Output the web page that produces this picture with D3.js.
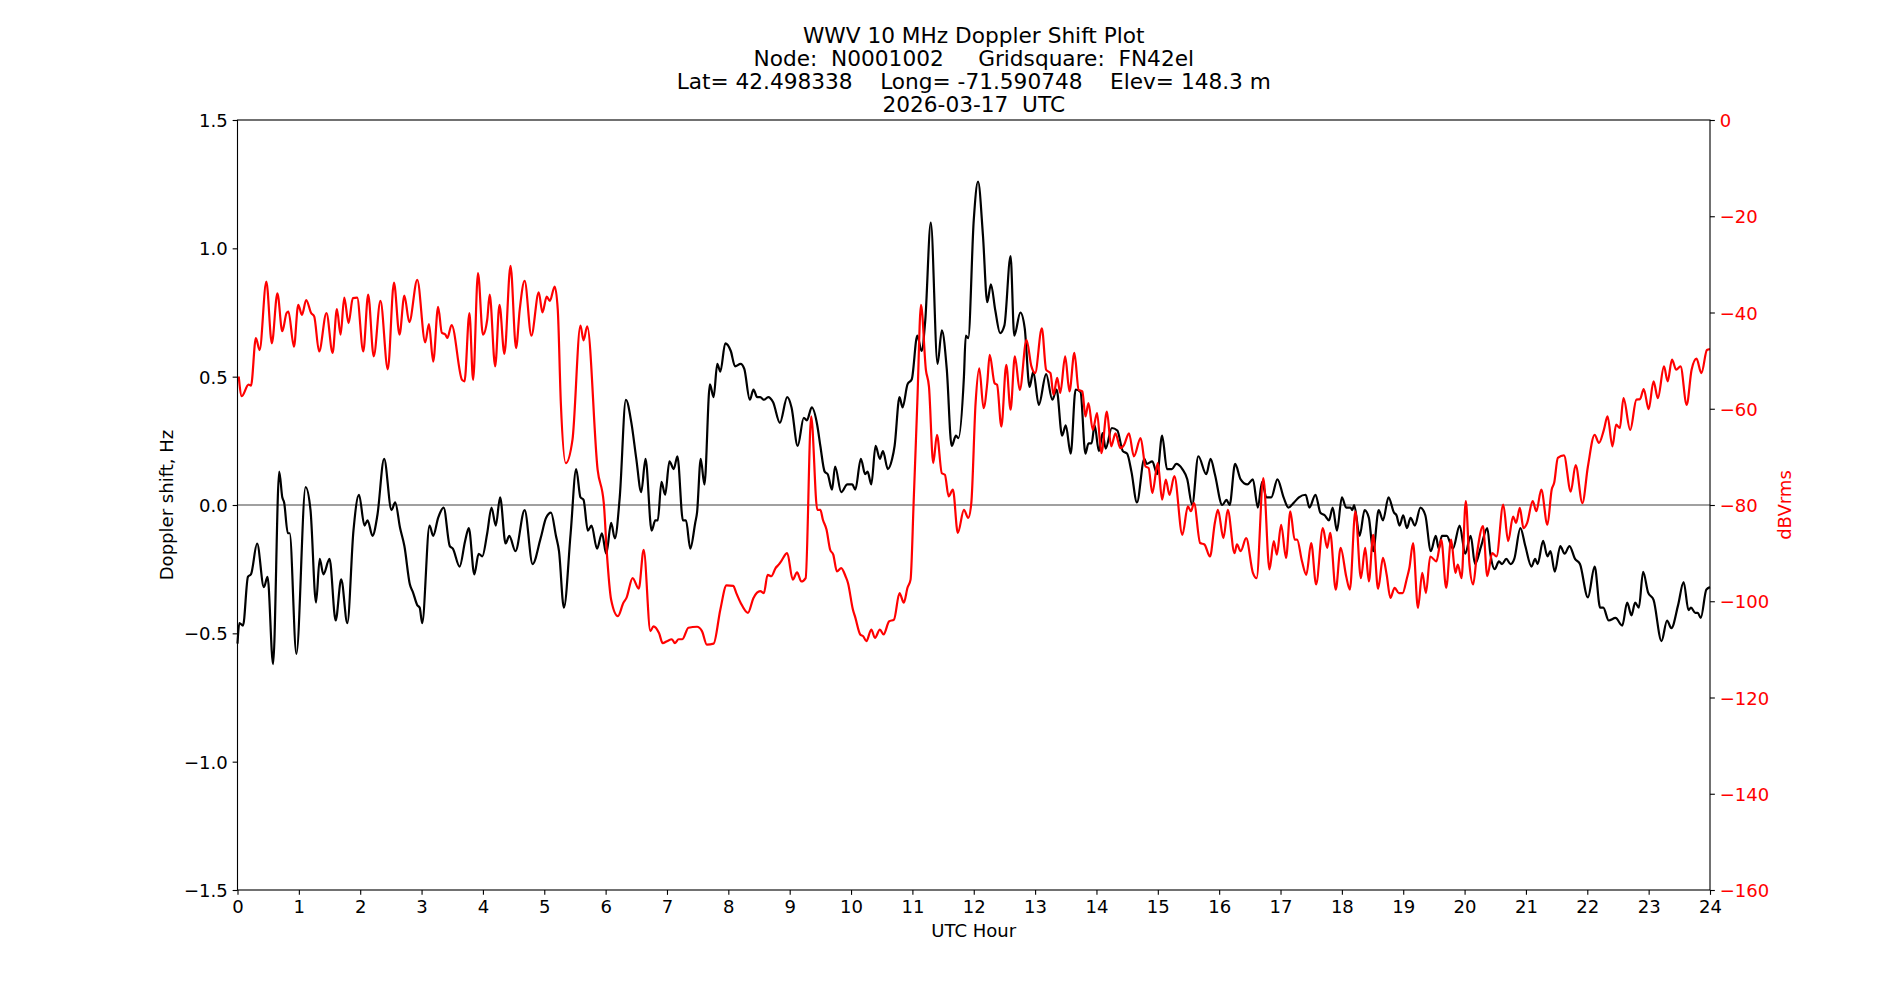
<!DOCTYPE html>
<html>
<head>
<meta charset="utf-8">
<script src="https://cdn.jsdelivr.net/npm/d3@7/dist/d3.min.js"></script>
<style>
  body { margin: 0; background: #fff; }
  text { font-family: "DejaVu Sans", sans-serif; white-space: pre; }
</style>
</head>
<body>
<svg></svg>
<script>
let width = 1900;
let height = 1000;

// title lines
let titleLines = [
  'WWV 10 MHz Doppler Shift Plot',
  'Node:  N0001002     Gridsquare:  FN42el',
  'Lat= 42.498338    Long= -71.590748    Elev= 148.3 m',
  '2026-03-17  UTC'
];

let hourTicks = d3.range(0, 25);
let shiftTicks = [-1.5, -1.0, -0.5, 0.0, 0.5, 1.0, 1.5];
let dbTicks = [0, -20, -40, -60, -80, -100, -120, -140, -160];

// Doppler shift (Hz), black trace
let dopHours = [0.00,0.03,0.09,0.17,0.22,0.32,0.43,0.49,0.58,0.68,0.73,0.76,0.82,0.85,0.96,1.11,1.19,1.28,1.34,1.40,
  1.50,1.60,1.69,1.79,1.89,1.98,2.07,2.12,2.20,2.28,2.39,2.51,2.57,2.65,2.72,2.81,2.86,2.93,2.97,3.01,
  3.13,3.19,3.27,3.36,3.46,3.51,3.62,3.71,3.77,3.86,3.93,3.99,4.07,4.14,4.21,4.28,4.37,4.43,4.53,4.68,
  4.81,4.94,5.03,5.11,5.19,5.24,5.32,5.43,5.52,5.59,5.64,5.71,5.77,5.86,5.94,6.01,6.09,6.15,6.23,6.33,
  6.42,6.50,6.58,6.65,6.75,6.81,6.85,6.91,6.97,7.04,7.11,7.17,7.26,7.31,7.38,7.46,7.49,7.55,7.61,7.70,
  7.76,7.82,7.87,7.95,8.04,8.11,8.20,8.26,8.35,8.41,8.47,8.52,8.58,8.65,8.73,8.84,8.96,9.03,9.13,9.23,
  9.28,9.36,9.45,9.50,9.57,9.62,9.69,9.74,9.84,9.94,10.02,10.07,10.16,10.23,10.27,10.33,10.40,10.47,10.52,10.60,
  10.67,10.71,10.79,10.84,10.92,10.99,11.08,11.15,11.21,11.30,11.41,11.48,11.56,11.64,11.71,11.75,11.84,11.87,11.91,12.00,
  12.07,12.15,12.22,12.28,12.35,12.43,12.50,12.60,12.66,12.76,12.83,12.91,12.97,13.06,13.18,13.28,13.35,13.44,13.50,13.58,
  13.66,13.74,13.82,13.87,13.92,13.97,14.04,14.10,14.15,14.25,14.34,14.43,14.50,14.57,14.66,14.78,14.82,14.91,14.99,15.07,
  15.15,15.23,15.30,15.40,15.48,15.56,15.66,15.79,15.86,15.93,16.05,16.12,16.17,16.26,16.35,16.46,16.55,16.63,16.70,16.77,
  16.85,16.95,17.05,17.13,17.22,17.30,17.41,17.47,17.57,17.65,17.72,17.79,17.85,17.92,18.00,18.07,18.14,18.17,18.20,18.29,
  18.37,18.44,18.51,18.60,18.67,18.76,18.85,18.89,18.94,19.00,19.06,19.12,19.19,19.28,19.36,19.45,19.53,19.58,19.63,19.71,
  19.81,19.92,20.01,20.10,20.17,20.27,20.37,20.42,20.49,20.56,20.61,20.68,20.75,20.81,20.91,20.99,21.09,21.15,21.19,21.28,
  21.35,21.40,21.47,21.56,21.63,21.71,21.80,21.88,22.01,22.12,22.21,22.26,22.35,22.46,22.57,22.65,22.72,22.78,22.84,22.91,
  22.99,23.08,23.21,23.30,23.37,23.48,23.57,23.65,23.69,23.76,23.80,23.85,23.94,24.00];
let dopShift = [-0.54,-0.46,-0.47,-0.28,-0.27,-0.15,-0.32,-0.28,-0.62,0.13,0.03,0.01,-0.11,-0.11,-0.58,0.07,-0.02,-0.38,-0.21,-0.27,
  -0.21,-0.45,-0.29,-0.46,-0.10,0.04,-0.08,-0.06,-0.12,-0.04,0.18,-0.02,0.01,-0.09,-0.16,-0.31,-0.34,-0.39,-0.40,-0.46,
  -0.08,-0.12,-0.05,-0.01,-0.16,-0.17,-0.24,-0.14,-0.09,-0.27,-0.19,-0.20,-0.11,-0.01,-0.08,0.03,-0.15,-0.12,-0.18,-0.02,
  -0.23,-0.13,-0.05,-0.03,-0.12,-0.18,-0.40,-0.11,0.14,0.03,0.02,-0.10,-0.08,-0.17,-0.11,-0.19,-0.07,-0.13,0.03,0.41,
  0.32,0.18,0.05,0.18,-0.10,-0.06,-0.06,0.09,0.04,0.17,0.14,0.19,-0.06,-0.06,-0.17,-0.07,-0.03,0.18,0.08,0.47,
  0.42,0.55,0.52,0.63,0.60,0.54,0.55,0.53,0.41,0.45,0.42,0.42,0.41,0.42,0.40,0.32,0.42,0.38,0.23,0.34,
  0.33,0.38,0.31,0.23,0.13,0.12,0.06,0.15,0.05,0.08,0.08,0.06,0.18,0.12,0.13,0.08,0.23,0.18,0.21,0.14,
  0.18,0.23,0.42,0.38,0.47,0.49,0.66,0.60,0.72,1.10,0.55,0.68,0.53,0.23,0.27,0.26,0.50,0.66,0.65,1.11,
  1.26,1.05,0.79,0.86,0.76,0.67,0.70,0.97,0.66,0.75,0.69,0.46,0.52,0.39,0.51,0.41,0.45,0.27,0.31,0.20,
  0.45,0.44,0.20,0.24,0.24,0.31,0.21,0.28,0.22,0.30,0.29,0.21,0.20,0.13,0.01,0.18,0.16,0.17,0.12,0.27,
  0.14,0.14,0.16,0.14,0.10,0.00,0.19,0.12,0.18,0.12,0.00,0.02,0.00,0.16,0.10,0.08,0.10,-0.01,0.09,0.03,
  0.03,0.10,0.03,-0.01,0.01,0.03,0.04,-0.01,0.04,-0.03,-0.04,-0.06,-0.01,-0.10,0.03,-0.01,-0.01,-0.02,0.00,-0.12,
  -0.02,-0.05,-0.18,-0.02,-0.06,0.03,-0.03,-0.04,-0.08,-0.04,-0.09,-0.05,-0.08,-0.01,-0.04,-0.18,-0.12,-0.17,-0.12,-0.12,
  -0.17,-0.08,-0.19,-0.12,-0.23,-0.16,-0.09,-0.19,-0.25,-0.22,-0.23,-0.21,-0.23,-0.21,-0.09,-0.16,-0.24,-0.21,-0.23,-0.14,
  -0.20,-0.18,-0.26,-0.16,-0.19,-0.16,-0.21,-0.23,-0.36,-0.24,-0.40,-0.40,-0.45,-0.44,-0.47,-0.38,-0.43,-0.38,-0.40,-0.26,
  -0.34,-0.37,-0.53,-0.45,-0.48,-0.39,-0.30,-0.41,-0.40,-0.42,-0.42,-0.44,-0.33,-0.32];

// received level (dBVrms), red trace
let pwrHours = [0.02,0.07,0.18,0.22,0.30,0.36,0.47,0.56,0.65,0.73,0.80,0.83,0.92,0.99,1.05,1.12,1.20,1.25,1.33,1.45,
  1.55,1.62,1.68,1.74,1.81,1.88,1.95,2.05,2.13,2.22,2.33,2.45,2.55,2.64,2.72,2.80,2.93,3.06,3.12,3.19,
  3.27,3.33,3.39,3.42,3.49,3.66,3.70,3.78,3.84,3.92,4.00,4.07,4.11,4.20,4.27,4.35,4.45,4.54,4.60,4.68,
  4.79,4.91,4.97,5.04,5.09,5.17,5.22,5.27,5.35,5.46,5.59,5.64,5.70,5.87,5.97,6.02,6.09,6.20,6.29,6.34,
  6.44,6.54,6.62,6.73,6.78,6.87,6.93,7.00,7.08,7.13,7.19,7.25,7.35,7.49,7.57,7.65,7.76,7.87,7.97,8.08,
  8.13,8.20,8.32,8.41,8.52,8.58,8.64,8.70,8.77,8.82,8.86,8.96,9.05,9.12,9.19,9.26,9.35,9.45,9.50,9.54,
  9.60,9.66,9.71,9.77,9.84,9.91,9.95,10.03,10.07,10.15,10.20,10.25,10.33,10.39,10.47,10.53,10.62,10.70,10.79,10.86,
  10.92,10.97,11.02,11.08,11.14,11.22,11.27,11.34,11.40,11.48,11.53,11.59,11.66,11.74,11.84,11.91,11.96,12.03,12.09,12.16,
  12.22,12.26,12.34,12.38,12.45,12.53,12.60,12.67,12.75,12.86,12.94,13.00,13.11,13.18,13.25,13.30,13.36,13.41,13.49,13.56,
  13.64,13.71,13.77,13.82,13.87,13.94,14.01,14.08,14.17,14.24,14.31,14.39,14.45,14.53,14.61,14.72,14.80,14.85,14.91,15.00,
  15.07,15.13,15.19,15.27,15.40,15.49,15.54,15.59,15.69,15.76,15.85,15.93,15.98,16.07,16.14,16.25,16.29,16.35,16.44,16.55,
  16.61,16.72,16.82,16.89,16.94,17.01,17.09,17.16,17.23,17.27,17.35,17.42,17.50,17.58,17.69,17.76,17.81,17.90,17.98,18.07,
  18.13,18.22,18.31,18.38,18.44,18.51,18.59,18.67,18.73,18.79,18.86,18.93,18.99,19.06,19.10,19.16,19.24,19.31,19.37,19.44,
  19.54,19.62,19.70,19.78,19.85,19.89,19.95,20.02,20.08,20.14,20.20,20.30,20.37,20.45,20.52,20.63,20.71,20.79,20.84,20.90,
  20.96,21.02,21.11,21.17,21.25,21.35,21.42,21.46,21.52,21.62,21.73,21.81,21.92,22.01,22.12,22.19,22.27,22.33,22.41,22.47,
  22.53,22.59,22.70,22.80,22.86,22.92,23.00,23.08,23.15,23.25,23.31,23.38,23.45,23.52,23.62,23.70,23.78,23.86,23.95,24.00];
let pwrDb = [-53.3,-57.4,-55.0,-55.2,-45.3,-47.8,-33.6,-46.4,-36.0,-43.9,-40.1,-39.8,-47.1,-38.4,-40.5,-37.4,-40.1,-40.8,-48.1,-40.1,
  -48.4,-39.3,-44.6,-36.9,-42.2,-37.0,-36.9,-48.1,-36.3,-49.1,-37.6,-51.8,-33.8,-44.6,-36.5,-42.0,-33.2,-46.2,-42.4,-50.2,
  -38.8,-44.2,-44.6,-45.3,-42.6,-54.0,-54.3,-40.1,-54.0,-31.8,-44.6,-41.5,-36.3,-51.2,-38.4,-48.6,-30.3,-47.4,-39.4,-33.4,
  -44.8,-35.8,-40.0,-36.7,-37.6,-34.6,-39.4,-58.8,-71.3,-66.4,-42.7,-45.8,-42.9,-72.7,-79.6,-90.0,-99.7,-103.1,-100.3,-99.3,
  -95.2,-97.4,-89.3,-106.2,-105.2,-106.6,-108.7,-108.3,-107.9,-108.7,-107.9,-107.9,-105.5,-105.3,-106.2,-109.0,-108.8,-101.7,-96.7,-96.8,
  -98.3,-100.3,-102.4,-99.3,-97.9,-98.3,-94.5,-94.8,-93.1,-92.4,-91.7,-90.0,-95.5,-94.0,-95.9,-95.2,-61.6,-81.0,-81.0,-83.0,
  -85.1,-89.3,-90.3,-93.8,-93.1,-94.8,-96.2,-101.7,-103.4,-106.9,-107.3,-108.3,-105.9,-107.6,-105.9,-106.9,-104.2,-103.8,-98.3,-100.3,
  -97.2,-95.5,-79.6,-58.8,-38.4,-51.9,-55.4,-71.3,-65.4,-73.4,-73.7,-78.2,-76.8,-85.8,-81.0,-82.7,-79.6,-58.8,-51.6,-59.9,
  -54.7,-48.8,-54.7,-55.0,-63.7,-50.9,-60.2,-49.1,-56.1,-45.7,-51.2,-52.6,-43.3,-51.9,-52.6,-57.1,-53.6,-56.7,-49.1,-56.4,
  -48.4,-56.1,-56.4,-61.6,-58.8,-64.4,-60.9,-69.2,-60.6,-67.8,-65.1,-68.2,-67.5,-65.1,-69.9,-66.1,-72.0,-72.3,-77.5,-71.3,
  -78.9,-74.7,-77.9,-74.0,-86.2,-80.3,-81.3,-79.6,-87.9,-88.2,-90.7,-83.7,-81.0,-86.9,-81.0,-90.0,-88.2,-89.6,-86.9,-94.1,
  -95.2,-74.4,-93.4,-87.5,-90.3,-84.1,-91.0,-81.3,-87.2,-87.2,-91.7,-94.5,-87.9,-96.5,-84.8,-88.9,-85.8,-97.6,-88.9,-94.8,
  -97.6,-81.3,-95.2,-88.9,-95.9,-86.2,-97.4,-91.0,-94.5,-99.3,-97.2,-98.3,-98.3,-95.2,-93.1,-87.9,-101.4,-94.1,-98.3,-90.7,
  -91.7,-87.2,-97.2,-87.2,-94.1,-92.4,-95.2,-79.2,-92.4,-96.5,-90.3,-84.4,-94.8,-90.0,-90.7,-79.9,-87.5,-82.4,-83.7,-80.6,
  -84.8,-83.7,-79.2,-81.3,-76.8,-84.1,-76.8,-75.4,-70.2,-69.7,-77.2,-71.7,-79.6,-72.0,-65.4,-67.1,-64.4,-61.6,-67.8,-63.3,
  -64.0,-57.8,-64.4,-58.1,-58.0,-55.9,-60.1,-54.3,-57.8,-51.2,-54.3,-49.8,-51.9,-51.2,-59.2,-51.9,-49.6,-52.6,-47.8,-47.6];

// figure layout (matplotlib defaults for a 19x10 inch figure)
let plotLeft = 237.5, plotRight = 1710, plotTop = 120, plotBottom = 890;
let pt = 100 / 72;
let tickLen = 3.5 * pt;
let tickPad = 3.5 * pt;
let tickFont = 18.06;
let labelFont = 18.06;
let titleFont = 21.67;

let svg = d3.select('svg')
            .attr('width', width)
            .attr('height', height);

svg.append('rect')
   .attr('width', width)
   .attr('height', height)
   .attr('fill', '#fff');

let x = d3.scaleLinear().domain([0, 24]).range([plotLeft, plotRight]);
let yShift = d3.scaleLinear().domain([-1.5, 1.5]).range([plotBottom, plotTop]);
let yDb = d3.scaleLinear().domain([-160, 0]).range([plotBottom, plotTop]);

// zero line
svg.append('line')
   .attr('x1', plotLeft).attr('x2', plotRight)
   .attr('y1', yShift(0)).attr('y2', yShift(0))
   .attr('stroke', '#808080')
   .attr('stroke-width', 1.4);

let dopLine = d3.line()
                .x((d, i) => x(dopHours[i]))
                .y(d => yShift(d))
                .curve(d3.curveMonotoneX);

let pwrLine = d3.line()
                .x((d, i) => x(pwrHours[i]))
                .y(d => yDb(d))
                .curve(d3.curveMonotoneX);

svg.append('path')
   .attr('d', dopLine(dopShift))
   .attr('fill', 'none')
   .attr('stroke', 'black')
   .attr('stroke-width', 2.2)
   .attr('stroke-linejoin', 'round');

svg.append('path')
   .attr('d', pwrLine(pwrDb))
   .attr('fill', 'none')
   .attr('stroke', 'red')
   .attr('stroke-width', 2.2)
   .attr('stroke-linejoin', 'round');

// axes box
svg.append('rect')
   .attr('x', plotLeft).attr('y', plotTop)
   .attr('width', plotRight - plotLeft).attr('height', plotBottom - plotTop)
   .attr('fill', 'none')
   .attr('stroke', 'black')
   .attr('stroke-width', 0.8 * pt);

function styleAxis(g, color) {
  g.select('.domain').remove();
  g.selectAll('.tick line')
   .attr('stroke', 'black')
   .attr('stroke-width', 0.8 * pt);
  g.selectAll('.tick text')
   .attr('fill', color)
   .attr('font-size', tickFont)
   .attr('font-family', '"DejaVu Sans", sans-serif');
}

let xAxis = svg.append('g')
               .attr('transform', `translate(0,${plotBottom})`)
               .call(d3.axisBottom(x).tickValues(hourTicks).tickFormat(d3.format('d'))
                       .tickSize(tickLen).tickPadding(tickPad));
styleAxis(xAxis, 'black');
xAxis.selectAll('.tick text').attr('dy', null).attr('y', tickLen + tickPad + 13.3);

let yAxisL = svg.append('g')
                .attr('transform', `translate(${plotLeft},0)`)
                .call(d3.axisLeft(yShift).tickValues(shiftTicks).tickFormat(d3.format('.1f'))
                        .tickSize(tickLen).tickPadding(tickPad));
styleAxis(yAxisL, 'black');
yAxisL.selectAll('.tick text').attr('dy', null).attr('y', 6.6);

let yAxisR = svg.append('g')
                .attr('transform', `translate(${plotRight},0)`)
                .call(d3.axisRight(yDb).tickValues(dbTicks).tickFormat(d3.format('d'))
                        .tickSize(tickLen).tickPadding(tickPad));
styleAxis(yAxisR, 'red');
yAxisR.selectAll('.tick text').attr('dy', null).attr('y', 6.6);

// axis labels
svg.append('text')
   .attr('x', (plotLeft + plotRight) / 2)
   .attr('y', 937)
   .attr('text-anchor', 'middle')
   .attr('font-size', labelFont)
   .text('UTC Hour');

svg.append('text')
   .attr('transform', `translate(173,${(plotTop + plotBottom) / 2}) rotate(-90)`)
   .attr('text-anchor', 'middle')
   .attr('font-size', labelFont)
   .text('Doppler shift, Hz');

svg.append('text')
   .attr('transform', `translate(1790.5,${(plotTop + plotBottom) / 2}) rotate(-90)`)
   .attr('text-anchor', 'middle')
   .attr('font-size', labelFont)
   .attr('fill', 'red')
   .text('dBVrms');

// title
svg.append('g')
   .selectAll('text')
   .data(titleLines)
   .enter()
   .append('text')
   .attr('x', (plotLeft + plotRight) / 2)
   .attr('y', (d, i) => 112 - (titleLines.length - 1 - i) * 23)
   .attr('text-anchor', 'middle')
   .attr('font-size', titleFont)
   .text(d => d);
</script>
</body>
</html>
